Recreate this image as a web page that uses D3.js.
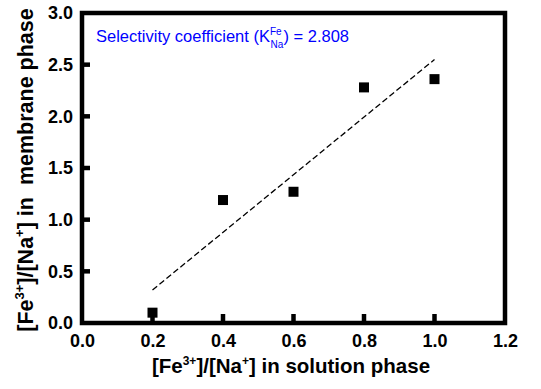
<!DOCTYPE html>
<html>
<head>
<meta charset="utf-8">
<script src="https://cdn.jsdelivr.net/npm/d3@7"></script>
<style>
  body { margin: 0; background: #fff; }
  text { font-family: Arial, "Liberation Sans", sans-serif; }
</style>
</head>
<body>
<svg id="chart" width="541" height="389"></svg>
<script>
// measured data points
const ratioSolution = [0.2, 0.4, 0.6, 0.8, 1.0];
const ratioMembrane = [0.10, 1.19, 1.27, 2.28, 2.36];
// dashed fit line ends
const fitX = [0.2, 1.0];
const fitY = [0.32, 2.55];
const xTicks = [0.0, 0.2, 0.4, 0.6, 0.8, 1.0, 1.2];
const yTicks = [0.0, 0.5, 1.0, 1.5, 2.0, 2.5, 3.0];

const margin = {left: 82, right: 36, top: 13, bottom: 66};
const width = 541, height = 389;
const svg = d3.select("#chart");

const x = d3.scaleLinear().domain([0, 1.2]).range([margin.left, width - margin.right]);
const y = d3.scaleLinear().domain([0, 3]).range([height - margin.bottom, margin.top]);

// tick labels via axes, tick marks drawn separately (inward)
const xAxis = svg.append("g")
  .attr("transform", `translate(0,${y(0)})`)
  .call(d3.axisBottom(x).tickValues(xTicks).tickSize(0).tickPadding(8).tickFormat(d3.format(".1f")));
const yAxis = svg.append("g")
  .attr("transform", `translate(${x(0)},0)`)
  .call(d3.axisLeft(y).tickValues(yTicks).tickSize(0).tickPadding(9).tickFormat(d3.format(".1f")));

[xAxis, yAxis].forEach(g => {
  g.select(".domain").remove();
  g.selectAll(".tick line").remove();
  g.selectAll(".tick text").attr("fill", "#000").style("font-size", "18px").style("font-weight", "bold");
});
xAxis.selectAll(".tick text").attr("dy", "0.9em");

// frame
svg.append("rect")
  .attr("x", x(0)).attr("y", y(3))
  .attr("width", x(1.2) - x(0)).attr("height", y(0) - y(3))
  .attr("fill", "none").attr("stroke", "#000").attr("stroke-width", 4.5);

// inward tick marks
svg.append("g").attr("class", "xticks").selectAll("line")
  .data(xTicks.filter(d => d > 0 && d < 1.2))
  .join("line")
  .attr("x1", d => x(d)).attr("x2", d => x(d))
  .attr("y1", y(0)).attr("y2", y(0) - 9)
  .attr("stroke", "#000").attr("stroke-width", 4.5);

svg.append("g").attr("class", "yticks").selectAll("line")
  .data(yTicks.filter(d => d > 0 && d < 3))
  .join("line")
  .attr("x1", x(0)).attr("x2", x(0) + 8)
  .attr("y1", d => y(d)).attr("y2", d => y(d))
  .attr("stroke", "#000").attr("stroke-width", 4.5);

// fit line
svg.append("line")
  .attr("x1", x(fitX[0])).attr("y1", y(fitY[0]))
  .attr("x2", x(fitX[1])).attr("y2", y(fitY[1]))
  .attr("stroke", "#000").attr("stroke-width", 1.3)
  .attr("stroke-dasharray", "6,3");

// data squares
svg.selectAll("rect.pt")
  .data(ratioSolution)
  .join("rect")
  .attr("class", "pt")
  .attr("x", d => x(d) - 5)
  .attr("y", (d, i) => y(ratioMembrane[i]) - 5)
  .attr("width", 10).attr("height", 10)
  .attr("fill", "#000");

// annotation
const ann = svg.append("text")
  .attr("x", 96).attr("y", 42)
  .attr("fill", "#0000ff").style("font-size", "16.5px");
ann.append("tspan").text("Selectivity coefficient (K");
ann.append("tspan").attr("dy", -7).style("font-size", "10px").text("Fe");
ann.append("tspan").attr("dx", -11).attr("dy", 13).style("font-size", "10px").text("Na");
ann.append("tspan").attr("dy", -6).text(") = 2.808");

// x label
const xl = svg.append("text")
  .attr("x", 291).attr("y", 373)
  .attr("text-anchor", "middle")
  .style("font-size", "20.5px").style("font-weight", "bold");
xl.append("tspan").text("[Fe");
xl.append("tspan").attr("dy", -8).style("font-size", "12px").text("3+");
xl.append("tspan").attr("dy", 8).text("]/[Na");
xl.append("tspan").attr("dy", -8).style("font-size", "12px").text("+");
xl.append("tspan").attr("dy", 8).text("] in solution phase");

// y label
const yl = svg.append("text")
  .attr("transform", `translate(33,170) rotate(-90)`)
  .attr("text-anchor", "middle")
  .style("font-size", "21.5px").style("font-weight", "bold");
yl.append("tspan").text("[Fe");
yl.append("tspan").attr("dy", -9).style("font-size", "13px").text("3+");
yl.append("tspan").attr("dy", 9).text("]/[Na");
yl.append("tspan").attr("dy", -9).style("font-size", "13px").text("+");
yl.append("tspan").attr("dy", 9).attr("xml:space", "preserve").text("] in  membrane phase");
</script>
</body>
</html>
